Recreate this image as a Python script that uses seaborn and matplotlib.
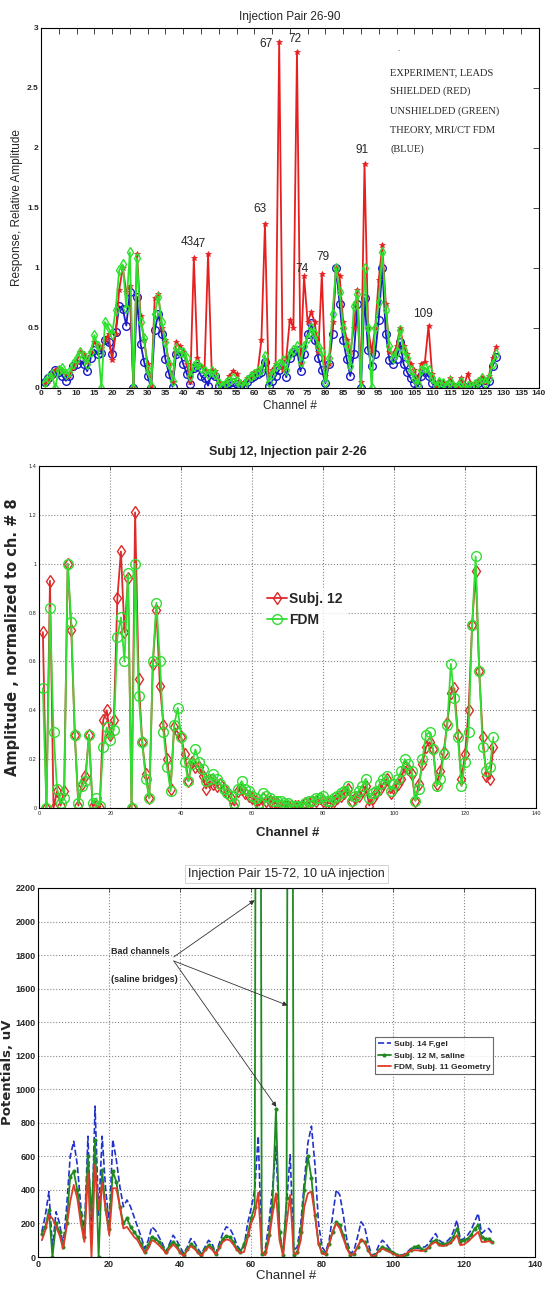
import numpy as np
import pandas as pd
import matplotlib
matplotlib.use("Agg")
import matplotlib.pyplot as plt
import seaborn as sns
from matplotlib import font_manager

channels = list(range(1, 129))

# ---------------- Panel 1: Injection Pair 26-90 ----------------
p1_red = [0.03, 0.06, 0.10, 0.15, 0.17, 0.15, 0.12, 0.10, 0.17, 0.22,
          0.30, 0.28, 0.22, 0.30, 0.38, 0.35, 0.33, 0.40, 0.45, 0.23,
          0.45, 0.82, 1.00, 0.80, 0.85, 0.00, 1.12, 0.60, 0.40, 0.20,
          0.02, 0.75, 0.78, 0.50, 0.40, 0.20, 0.05, 0.38, 0.35, 0.30,
          0.20, 0.05, 1.08, 0.25, 0.18, 0.15, 1.12, 0.15, 0.14, 0.05,
          0.03, 0.05, 0.10, 0.14, 0.12, 0.05, 0.03, 0.08, 0.10, 0.13,
          0.15, 0.40, 1.37, 0.10, 0.15, 0.20, 2.88, 0.15, 0.25, 0.57,
          0.50, 2.80, 0.20, 0.93, 0.55, 0.63, 0.55, 0.30, 0.95, 0.10,
          0.20, 0.55, 1.00, 0.93, 0.55, 0.40, 0.30, 0.50, 0.82, 0.05,
          1.87, 0.50, 0.30, 0.50, 0.90, 1.19, 0.70, 0.30, 0.28, 0.35,
          0.50, 0.35, 0.28, 0.20, 0.15, 0.05, 0.20, 0.22, 0.52, 0.12,
          0.02, 0.05, 0.05, 0.03, 0.08, 0.03, 0.02, 0.08, 0.02, 0.12,
          0.03, 0.04, 0.06, 0.08, 0.05, 0.10, 0.25, 0.34]
p1_green = [0.05, 0.08, 0.12, 0.00, 0.15, 0.17, 0.12, 0.13, 0.20, 0.25,
            0.30, 0.27, 0.20, 0.30, 0.44, 0.35, 0.00, 0.55, 0.50, 0.45,
            0.65, 0.98, 1.03, 0.67, 1.13, 0.00, 1.08, 0.55, 0.42, 0.15,
            0.02, 0.62, 0.76, 0.55, 0.38, 0.20, 0.06, 0.33, 0.30, 0.30,
            0.25, 0.10, 0.18, 0.20, 0.17, 0.14, 0.12, 0.14, 0.12, 0.04,
            0.02, 0.04, 0.06, 0.08, 0.06, 0.03, 0.02, 0.07, 0.10, 0.12,
            0.14, 0.15, 0.27, 0.05, 0.12, 0.18, 0.20, 0.23, 0.15, 0.28,
            0.32, 0.35, 0.22, 0.35, 0.42, 0.50, 0.45, 0.35, 0.30, 0.05,
            0.25, 0.62, 1.00, 0.80, 0.50, 0.35, 0.18, 0.68, 0.78, 0.00,
            1.00, 0.50, 0.00, 0.50, 0.72, 1.13, 0.65, 0.35, 0.25, 0.30,
            0.48, 0.32, 0.25, 0.15, 0.08, 0.03, 0.15, 0.17, 0.15, 0.08,
            0.02, 0.05, 0.04, 0.02, 0.06, 0.02, 0.01, 0.05, 0.01, 0.02,
            0.02, 0.03, 0.05, 0.08, 0.04, 0.08, 0.20, 0.28]
p1_blue = [0.05, 0.08, 0.12, 0.15, 0.13, 0.10, 0.06, 0.10, 0.18, 0.20,
           0.23, 0.20, 0.14, 0.25, 0.32, 0.28, 0.29, 0.40, 0.38, 0.28,
           0.47, 0.68, 0.66, 0.52, 0.80, 0.00, 0.76, 0.37, 0.22, 0.10,
           0.00, 0.48, 0.62, 0.45, 0.24, 0.12, 0.01, 0.28, 0.30, 0.20,
           0.12, 0.03, 0.17, 0.18, 0.10, 0.08, 0.02, 0.12, 0.10, 0.02,
           0.01, 0.02, 0.04, 0.05, 0.03, 0.01, 0.01, 0.05, 0.08, 0.10,
           0.12, 0.13, 0.22, 0.02, 0.06, 0.10, 0.15, 0.20, 0.09, 0.25,
           0.30, 0.32, 0.14, 0.28, 0.45, 0.54, 0.40, 0.25, 0.15, 0.04,
           0.20, 0.45, 1.00, 0.70, 0.40, 0.24, 0.10, 0.28, 0.70, 0.00,
           0.75, 0.32, 0.18, 0.28, 0.57, 1.00, 0.45, 0.23, 0.20, 0.24,
           0.38, 0.20, 0.13, 0.08, 0.04, 0.01, 0.10, 0.13, 0.10, 0.04,
           0.01, 0.03, 0.02, 0.01, 0.03, 0.01, 0.00, 0.03, 0.01, 0.01,
           0.01, 0.02, 0.04, 0.07, 0.03, 0.06, 0.18, 0.26]
p1_peak_labels = ["43", "47", "63", "67", "72", "74", "79", "91", "109"]
p1_peak_x = [41.2, 44.6, 61.5, 63.2, 71.4, 73.4, 79.4, 90.4, 107.3]
p1_peak_y = [1.22, 1.20, 1.49, 2.87, 2.91, 0.99, 1.09, 1.98, 0.62]
p1_note = ["EXPERIMENT, LEADS", "SHIELDED (RED)", "UNSHIELDED (GREEN)",
           "THEORY, MRI/CT FDM", "(BLUE)"]

# ---------------- Panel 2: Subj 12, Injection pair 2-26 ----------------
p2_subj12 = [0.72, 0.00, 0.93, 0.00, 0.07, 0.01, 0.07, 1.00, 0.73, 0.30,
             0.01, 0.10, 0.13, 0.30, 0.01, 0.01, 0.00, 0.36, 0.40, 0.30,
             0.36, 0.86, 1.05, 0.72, 0.94, 0.00, 1.21, 0.53, 0.27, 0.14,
             0.04, 0.59, 0.81, 0.50, 0.34, 0.20, 0.08, 0.33, 0.31, 0.29,
             0.22, 0.11, 0.19, 0.17, 0.17, 0.13, 0.08, 0.11, 0.10, 0.09,
             0.10, 0.08, 0.06, 0.04, 0.01, 0.07, 0.08, 0.06, 0.05, 0.04,
             0.03, 0.01, 0.04, 0.03, 0.03, 0.02, 0.02, 0.01, 0.01, 0.01,
             0.01, 0.01, 0.01, 0.01, 0.02, 0.02, 0.03, 0.03, 0.04, 0.03,
             0.02, 0.02, 0.03, 0.04, 0.05, 0.06, 0.08, 0.03, 0.04, 0.05,
             0.07, 0.09, 0.01, 0.04, 0.06, 0.08, 0.10, 0.12, 0.06, 0.08,
             0.10, 0.12, 0.17, 0.16, 0.14, 0.03, 0.10, 0.18, 0.25, 0.27,
             0.24, 0.10, 0.15, 0.23, 0.35, 0.47, 0.49, 0.30, 0.12, 0.22,
             0.40, 0.75, 0.97, 0.56, 0.29, 0.13, 0.12, 0.25]
p2_fdm = [0.49, 0.00, 0.82, 0.31, 0.08, 0.02, 0.04, 1.00, 0.76, 0.30,
          0.02, 0.09, 0.11, 0.30, 0.02, 0.04, 0.01, 0.25, 0.33, 0.28,
          0.32, 0.70, 0.78, 0.60, 0.96, 0.00, 1.00, 0.46, 0.27, 0.12,
          0.04, 0.60, 0.84, 0.60, 0.31, 0.17, 0.07, 0.34, 0.41, 0.29,
          0.19, 0.11, 0.18, 0.24, 0.19, 0.16, 0.11, 0.12, 0.14, 0.12,
          0.10, 0.08, 0.06, 0.05, 0.02, 0.08, 0.11, 0.08, 0.07, 0.05,
          0.04, 0.02, 0.06, 0.05, 0.04, 0.03, 0.03, 0.03, 0.02, 0.02,
          0.01, 0.01, 0.01, 0.01, 0.02, 0.03, 0.03, 0.04, 0.04, 0.05,
          0.03, 0.03, 0.04, 0.05, 0.06, 0.07, 0.09, 0.03, 0.05, 0.07,
          0.09, 0.12, 0.04, 0.06, 0.07, 0.10, 0.12, 0.13, 0.07, 0.10,
          0.12, 0.15, 0.20, 0.18, 0.15, 0.03, 0.08, 0.20, 0.30, 0.31,
          0.24, 0.09, 0.12, 0.22, 0.34, 0.59, 0.45, 0.29, 0.09, 0.19,
          0.31, 0.75, 1.03, 0.56, 0.25, 0.15, 0.17, 0.29]

# ---------------- Panel 3: Injection Pair 15-72 ----------------
p3_subj14_gel = [150, 250, 390, 50, 270, 200, 70, 300, 600, 690,
                 550, 300, 150, 720, 100, 900, 250, 720, 400, 200,
                 700, 580, 420, 300, 340, 300, 240, 180, 120, 50,
                 100, 180, 160, 120, 80, 30, 80, 130, 100, 60,
                 20, 60, 110, 90, 50, 20, 60, 100, 80, 20,
                 80, 140, 180, 170, 130, 70, 40, 60, 200, 290,
                 400, 720, 50, 50, 200, 400, 660, 150, 20, 320,
                 610, 40, 60, 200, 450, 680, 780, 550, 200, 60,
                 30, 100, 250, 400, 370, 250, 100, 20, 40, 120,
                 210, 180, 80, 10, 20, 70, 100, 80, 50, 30,
                 15, 10, 15, 30, 50, 60, 50, 60, 60, 80,
                 110, 140, 100, 85, 90, 110, 150, 220, 100, 110,
                 130, 160, 210, 260, 140, 160, 170, 140]
p3_subj12_saline = [140, 180, 280, 0, 200, 150, 60, 200, 480, 510,
                    400, 250, 120, 600, 250, 700, 0, 520, 280, 170,
                    510, 450, 300, 200, 230, 180, 150, 120, 80, 30,
                    70, 120, 110, 90, 60, 30, 70, 90, 70, 30,
                    10, 50, 75, 60, 30, 10, 50, 70, 55, 20,
                    60, 110, 125, 120, 90, 50, 30, 80, 130, 230,
                    300, 10000, 20, 30, 130, 300, 880, 150, 10, 350,
                    10000, 10, 30, 150, 400, 600, 470, 250, 80, 30,
                    20, 80, 150, 210, 190, 130, 60, 15, 20, 60,
                    100, 90, 40, 5, 10, 40, 60, 50, 40, 25,
                    15, 5, 10, 20, 40, 60, 65, 50, 40, 60,
                    90, 100, 80, 75, 80, 90, 120, 170, 90, 100,
                    110, 130, 170, 190, 120, 110, 110, 90]
p3_fdm = [100, 160, 250, 230, 180, 130, 50, 180, 330, 430,
          350, 200, 90, 500, 0, 550, 280, 440, 280, 130,
          410, 410, 300, 170, 180, 150, 120, 100, 60, 25,
          50, 100, 90, 70, 50, 20, 50, 75, 55, 25,
          5, 40, 65, 50, 25, 5, 40, 60, 45, 15,
          50, 90, 105, 100, 75, 40, 25, 30, 110, 200,
          250, 385, 30, 10, 100, 250, 380, 100, 10, 200,
          370, 20, 20, 100, 300, 380, 390, 250, 80, 20,
          15, 80, 150, 200, 170, 110, 50, 10, 20, 60,
          105, 90, 40, 5, 10, 35, 50, 40, 30, 20,
          10, 5, 10, 25, 40, 40, 40, 35, 40, 55,
          80, 90, 70, 65, 70, 80, 100, 130, 70, 75,
          90, 110, 130, 150, 90, 90, 95, 85]
p3_bad_x = [61.0, 70.3, 67.1]
p3_bad_y = [2127, 1500, 895]

# ---------------- styling ----------------
sns.set_theme(style="white")
avail = {f.name for f in font_manager.fontManager.ttflist}
NARROW = "Liberation Sans Narrow" if "Liberation Sans Narrow" in avail else "Liberation Sans"
plt.rcParams["font.family"] = [NARROW, "DejaVu Sans"]
plt.rcParams["axes.edgecolor"] = "black"
plt.rcParams["axes.linewidth"] = 0.8

fig = plt.figure(figsize=(5.5, 12.89), dpi=100)
ax1 = fig.add_axes([0.0745, 0.699, 0.905, 0.2793])
ax2 = fig.add_axes([0.0715, 0.3731, 0.903, 0.2654])
ax3 = fig.add_axes([0.0696, 0.0248, 0.903, 0.2863])

df1 = pd.DataFrame({"ch": channels, "red": p1_red, "green": p1_green, "blue": p1_blue})
df2 = pd.DataFrame({"ch": channels, "subj": p2_subj12, "fdm": p2_fdm})
df3 = pd.DataFrame({"ch": channels, "gel": p3_subj14_gel, "saline": p3_subj12_saline, "fdm": p3_fdm})

# ---- Panel 1 ----
BLUE1, RED1, GREEN1 = "#1a1ac8", "#e62020", "#2ee02e"
sns.lineplot(data=df1, x="ch", y="blue", ax=ax1, color=BLUE1, lw=1.3, marker="o",
             markersize=5.5, markerfacecolor="none", markeredgecolor=BLUE1, markeredgewidth=1.0)
sns.lineplot(data=df1, x="ch", y="red", ax=ax1, color=RED1, lw=1.3, marker="*",
             markersize=4, markerfacecolor=RED1, markeredgecolor=RED1, markeredgewidth=0.5)
sns.lineplot(data=df1, x="ch", y="green", ax=ax1, color=GREEN1, lw=1.3, marker="d",
             markersize=5, markerfacecolor="none", markeredgecolor=GREEN1, markeredgewidth=1.0)
ax1.set_xlim(0, 140)
ax1.set_ylim(0, 3)
ax1.set_xticks(range(0, 141, 5))
ax1.set_yticks([0, 0.5, 1, 1.5, 2, 2.5, 3])
ax1.set_yticklabels(["0", "0.5", "1", "1.5", "2", "2.5", "3"])
ax1.tick_params(axis="both", direction="in", top=True, right=True, length=4, width=0.6,
                labelsize=6, pad=1.5)
for t in ax1.get_xticklabels() + ax1.get_yticklabels():
    t.set_fontweight("bold")
ax1.set_title("Injection Pair 26-90", fontsize=8.5, pad=6)
ax1.set_xlabel("Channel #", fontsize=8.5, labelpad=2)
ax1.set_ylabel("Response, Relative Amplitude", fontsize=8.5, labelpad=3)
for lab, x, y in zip(p1_peak_labels, p1_peak_x, p1_peak_y):
    ax1.text(x, y, lab, fontsize=8.5, ha="center", va="center")
ax1.text(100.4, 2.82, ".", fontsize=6, ha="center", va="center")
for i, line in enumerate(p1_note):
    ax1.text(98.2, 2.63 - i * 0.16, line, fontsize=7.5, ha="left", va="center",
             family=["Liberation Serif", "DejaVu Serif"])
ax1.grid(False)

# ---- Panel 2 ----
RED2, GREEN2 = "#dd2a2a", "#33dd33"
sns.lineplot(data=df2, x="ch", y="subj", ax=ax2, color=RED2, lw=1.3, marker="d",
             markersize=6.5, markerfacecolor="none", markeredgecolor=RED2, markeredgewidth=1.0,
             label="Subj. 12")
sns.lineplot(data=df2, x="ch", y="fdm", ax=ax2, color=GREEN2, lw=1.3, marker="o",
             markersize=7, markerfacecolor="none", markeredgecolor=GREEN2, markeredgewidth=1.0,
             label="FDM")
ax2.set_xlim(0, 140)
ax2.set_ylim(0, 1.4)
ax2.set_xticks(range(0, 141, 20))
ax2.set_yticks([0, 0.2, 0.4, 0.6, 0.8, 1.0, 1.2, 1.4])
ax2.set_yticklabels(["0", "0.2", "0.4", "0.6", "0.8", "1", "1.2", "1.4"])
ax2.tick_params(axis="both", direction="in", top=True, right=True, length=3, width=0.5,
                labelsize=4, pad=2)
ax2.grid(True, linestyle=":", color="#888888", linewidth=0.8)
ax2.set_title("Subj 12, Injection pair 2-26", fontsize=9, fontweight="bold", pad=8)
ax2.set_xlabel("Channel #", fontsize=9.5, fontweight="bold", labelpad=8)
ax2.set_ylabel("Amplitude , normalized to ch. # 8", fontsize=10.5, fontweight="bold",
               family=["DejaVu Sans"], labelpad=6)
leg2 = ax2.legend(loc="center", bbox_to_anchor=(0.535, 0.58), frameon=True, fontsize=10,
                  handlelength=1.4, handletextpad=0.2, borderpad=0.3, labelspacing=0.5)
leg2.get_frame().set_edgecolor("none")
leg2.get_frame().set_facecolor("white")
for t in leg2.get_texts():
    t.set_fontweight("bold")

# ---- Panel 3 ----
BLUE3, GREEN3, RED3 = "#2233cc", "#1f8a1f", "#e03a2a"
sns.lineplot(data=df3, x="ch", y="gel", ax=ax3, color=BLUE3, lw=1.2, linestyle="--",
             dashes=(5, 3), label="Subj. 14 F,gel")
sns.lineplot(data=df3, x="ch", y="saline", ax=ax3, color=GREEN3, lw=1.3, marker="o",
             markersize=2.2, markerfacecolor=GREEN3, markeredgecolor=GREEN3,
             label="Subj. 12 M, saline")
sns.lineplot(data=df3, x="ch", y="fdm", ax=ax3, color=RED3, lw=1.3, label="FDM, Subj. 11 Geometry")
ax3.set_xlim(0, 140)
ax3.set_ylim(0, 2200)
ax3.set_xticks(range(0, 141, 20))
ax3.set_yticks(range(0, 2201, 200))
ax3.tick_params(axis="both", direction="in", top=True, right=True, length=3, width=0.5,
                labelsize=6.5, pad=2)
for t in ax3.get_xticklabels() + ax3.get_yticklabels():
    t.set_fontweight("bold")
ax3.grid(True, linestyle=":", color="#888888", linewidth=0.8)
ax3.set_title("Injection Pair 15-72, 10 uA injection", fontsize=9, pad=8,
              bbox=dict(facecolor="white", edgecolor="#cccccc", linewidth=0.6, pad=2))
ax3.set_xlabel("Channel #", fontsize=9.5, labelpad=1)
ax3.set_ylabel("Potentials, uV", fontsize=9.5, fontweight="bold", family=["DejaVu Sans"], labelpad=1)
ax3.text(20.5, 1819, "Bad channels", fontsize=6.5, fontweight="bold", ha="left", va="center")
ax3.text(20.5, 1654, "(saline bridges)", fontsize=6.5, fontweight="bold", ha="left", va="center")
origins = [(38.2, 1789), (38.2, 1765), (38.2, 1765)]
for (ox, oy), bx, by in zip(origins, p3_bad_x, p3_bad_y):
    ax3.annotate("", xy=(bx, by), xytext=(ox, oy),
                 arrowprops=dict(arrowstyle="-|>", color="#333333", lw=0.6,
                                 mutation_scale=7, shrinkA=0, shrinkB=0))
leg3 = ax3.legend(loc="upper left", bbox_to_anchor=(95 / 140, 1310 / 2200), fontsize=6,
                  frameon=True, fancybox=False, handlelength=1.5, handletextpad=0.4,
                  borderpad=0.35, labelspacing=0.45, borderaxespad=0)
leg3.get_frame().set_edgecolor("#444444")
leg3.get_frame().set_linewidth(0.8)
for t in leg3.get_texts():
    t.set_fontweight("bold")

fig.savefig("out.png", dpi=100)
